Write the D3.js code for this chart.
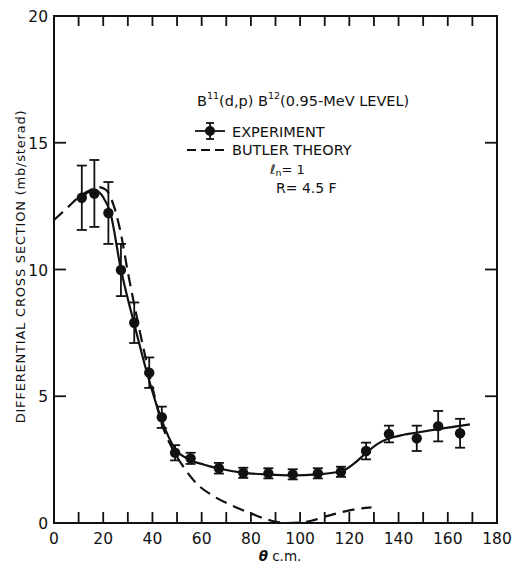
<!DOCTYPE html>
<html>
<head>
<meta charset="utf-8">
<script src="https://cdn.jsdelivr.net/npm/d3@7"></script>
<style>
  html, body { margin: 0; padding: 0; background: #fff; }
  svg { display: block; }
  text { font-family: "DejaVu Sans", "Liberation Sans", sans-serif; fill: #111; }
</style>
</head>
<body>
<script>
// Measured angular distribution, B11(d,p)B12 to the 0.95-MeV level
const expAngle = [11.3, 16.4, 22.1, 27.2, 32.6, 38.7, 43.8, 49.2, 55.5, 67.0, 76.9, 87.1, 97.0, 107.2, 116.6, 126.8, 136.1, 147.4, 156.1, 165.0];
const expSigma = [12.83, 13.0, 12.23, 9.98, 7.90, 5.93, 4.17, 2.77, 2.55, 2.16, 1.98, 1.96, 1.92, 1.96, 2.02, 2.84, 3.51, 3.34, 3.82, 3.54];
const expError = [1.27, 1.32, 1.22, 1.03, 0.80, 0.60, 0.42, 0.30, 0.22, 0.21, 0.2, 0.2, 0.2, 0.2, 0.2, 0.33, 0.33, 0.50, 0.60, 0.57];

// Smooth curve drawn through the experimental points
const fitAngle = [11.3, 14, 17, 20, 23, 27, 33, 38, 44, 49, 55, 61, 67, 77, 87, 97, 107, 117, 122, 127, 132, 136, 142, 147, 156, 169];
const fitSigma = [12.8, 13.05, 13.1, 12.85, 12.2, 10.1, 7.7, 5.85, 4.0, 2.95, 2.5, 2.3, 2.15, 1.98, 1.91, 1.88, 1.92, 2.05, 2.35, 2.78, 3.15, 3.33, 3.48, 3.56, 3.7, 3.89];

// Butler theory, l_n = 1, R = 4.5 F
const butlerAngle = [0, 5, 10, 15, 18, 21, 24, 27, 30, 35, 40, 44, 48, 52, 58, 65, 72, 80, 88, 95, 100, 105, 110, 115, 120, 125, 129];
const butlerSigma = [11.95, 12.4, 12.85, 13.15, 13.25, 13.15, 12.6, 11.5, 9.9, 7.5, 5.35, 3.85, 2.95, 2.3, 1.55, 1.05, 0.7, 0.38, 0.1, 0.0, 0.02, 0.1, 0.25, 0.38, 0.5, 0.58, 0.62];

const xTickLabels = [0, 20, 40, 60, 80, 100, 120, 140, 160, 180];
const xMinorTicks = d3.range(10, 180, 10);
const yTickLabels = [0, 5, 10, 15, 20];
const yInnerTicks = [5, 10, 15];

const W = 512, H = 565;
const svg = d3.select("body").append("svg").attr("width", W).attr("height", H);

const x = d3.scaleLinear().domain([0, 180]).range([54, 497]);
const y = d3.scaleLinear().domain([0, 20]).range([523, 16]);

const ink = "#111";

// frame
svg.append("rect")
  .attr("x", x(0)).attr("y", y(20))
  .attr("width", x(180) - x(0)).attr("height", y(0) - y(20))
  .attr("fill", "none").attr("stroke", ink).attr("stroke-width", 2);

// inward ticks on all four sides
const tickG = svg.append("g").attr("stroke", ink).attr("stroke-width", 1.8);
xMinorTicks.forEach(t => {
  tickG.append("line").attr("x1", x(t)).attr("x2", x(t)).attr("y1", y(0)).attr("y2", y(0) - 11);
  tickG.append("line").attr("x1", x(t)).attr("x2", x(t)).attr("y1", y(20)).attr("y2", y(20) + 10);
});
yInnerTicks.forEach(t => {
  tickG.append("line").attr("x1", x(0)).attr("x2", x(0) + 12).attr("y1", y(t)).attr("y2", y(t));
  tickG.append("line").attr("x1", x(180)).attr("x2", x(180) - 12).attr("y1", y(t)).attr("y2", y(t));
});

// tick labels
svg.append("g").selectAll("text").data(xTickLabels).join("text")
  .attr("x", d => x(d)).attr("y", 544)
  .attr("text-anchor", "middle").attr("font-size", 15.5)
  .text(d => d);
svg.append("g").selectAll("text").data(yTickLabels).join("text")
  .attr("x", 48).attr("y", d => y(d) + 6)
  .attr("text-anchor", "end").attr("font-size", 15.5)
  .text(d => d);

// axis titles
svg.append("text")
  .attr("transform", `translate(25,${(y(0) + y(20)) / 2 - 3}) rotate(-90)`)
  .attr("text-anchor", "middle").attr("font-size", 13).attr("letter-spacing", 0.8)
  .text("DIFFERENTIAL CROSS SECTION (mb/sterad)");
const xt = svg.append("text").attr("x", 280).attr("y", 561).attr("text-anchor", "middle").attr("font-size", 13.5);
xt.append("tspan").attr("font-style", "italic").attr("font-weight", "bold").text("θ");
xt.append("tspan").text(" c.m.");

// theory curve
const line = d3.line().x(d => x(d[0])).y(d => y(d[1])).curve(d3.curveMonotoneX);
svg.append("path")
  .attr("d", line(d3.zip(butlerAngle, butlerSigma)))
  .attr("fill", "none").attr("stroke", ink).attr("stroke-width", 2.2)
  .attr("stroke-dasharray", "12,7");

// curve through the data
svg.append("path")
  .attr("d", line(d3.zip(fitAngle, fitSigma)))
  .attr("fill", "none").attr("stroke", ink).attr("stroke-width", 2.2);

// experimental points with error bars
const pts = svg.append("g");
expAngle.forEach((a, i) => {
  const cx = x(a), cy = y(expSigma[i]);
  const top = y(expSigma[i] + expError[i]), bot = y(expSigma[i] - expError[i]);
  pts.append("line").attr("x1", cx).attr("x2", cx).attr("y1", top).attr("y2", bot)
    .attr("stroke", ink).attr("stroke-width", 1.8);
  [top, bot].forEach(v => pts.append("line")
    .attr("x1", cx - 5).attr("x2", cx + 5).attr("y1", v).attr("y2", v)
    .attr("stroke", ink).attr("stroke-width", 1.8));
  pts.append("circle").attr("cx", cx).attr("cy", cy).attr("r", 5.2).attr("fill", ink);
});

// legend
const lg = svg.append("g");
const title = lg.append("text").attr("x", 197).attr("y", 106).attr("font-size", 14.5);
title.append("tspan").text("B");
title.append("tspan").attr("font-size", 9.5).attr("dy", -7).text("11");
title.append("tspan").attr("dy", 7).text("(d,p) B");
title.append("tspan").attr("font-size", 9.5).attr("dy", -7).text("12");
title.append("tspan").attr("dy", 7).text("(0.95-MeV LEVEL)");

// experiment symbol
const sx = 210, sy = 131;
lg.append("line").attr("x1", sx - 15).attr("x2", sx + 15).attr("y1", sy).attr("y2", sy).attr("stroke", ink).attr("stroke-width", 1.8);
lg.append("line").attr("x1", sx).attr("x2", sx).attr("y1", sy - 8).attr("y2", sy + 8).attr("stroke", ink).attr("stroke-width", 1.8);
[sy - 8, sy + 8].forEach(v => lg.append("line").attr("x1", sx - 4).attr("x2", sx + 4).attr("y1", v).attr("y2", v).attr("stroke", ink).attr("stroke-width", 1.8));
lg.append("circle").attr("cx", sx).attr("cy", sy).attr("r", 5).attr("fill", ink);
lg.append("text").attr("x", 232).attr("y", 137).attr("font-size", 14.5).text("EXPERIMENT");

// theory symbol
lg.append("line").attr("x1", 187).attr("x2", 227).attr("y1", 150).attr("y2", 150)
  .attr("stroke", ink).attr("stroke-width", 2).attr("stroke-dasharray", "9,5");
lg.append("text").attr("x", 232).attr("y", 155).attr("font-size", 14.5).text("BUTLER THEORY");

const ln = lg.append("text").attr("x", 270).attr("y", 174).attr("font-size", 13);
ln.append("tspan").attr("font-style", "italic").text("ℓ");
ln.append("tspan").attr("font-size", 9.5).attr("dy", 2).text("n");
ln.append("tspan").attr("dy", -2).text("= 1");
lg.append("text").attr("x", 276).attr("y", 193).attr("font-size", 14).text("R= 4.5 F");
</script>
</body>
</html>
